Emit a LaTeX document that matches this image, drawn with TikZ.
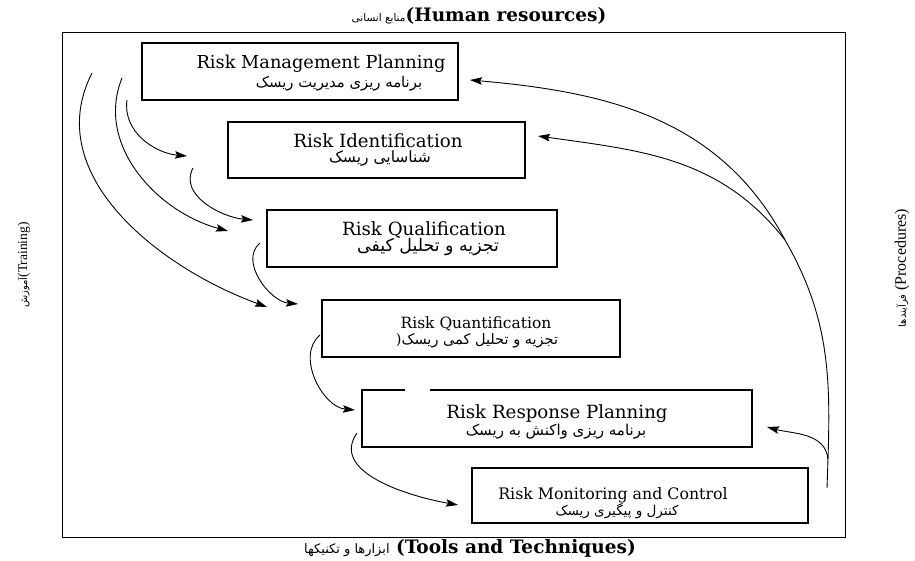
\documentclass[tikz,border=0pt]{standalone}
\usepackage{fontspec}
\usetikzlibrary{arrows.meta}
\setmainfont{DejaVu Serif}
\newfontfamily\sidefont{Liberation Serif}
\newfontfamily\fafont[Script=Arabic]{DejaVu Sans}
\TeXXeTstate=1
\newcommand\fasize[1]{\fafont\mdseries\fontsize{#1}{#1}\selectfont}

\tikzset{
  stage/.style={draw, line width=1.1pt, inner sep=0pt},
  title/.style={anchor=base, inner sep=0pt, font=\fontsize{#1}{#1}\selectfont},
  sub/.style={anchor=base, inner sep=0pt, font=\fafont\fontsize{#1}{#1}\selectfont},
  edge/.style={anchor=base, inner sep=0pt, font=\bfseries\fontsize{18.5}{20}\selectfont},
  side/.style={inner sep=0pt, rotate=90, font=\sidefont\fontsize{#1}{#1}\selectfont},
  flow/.style={line width=0.9pt, -{Stealth[length=12pt,width=7.5pt,inset=2pt]}},
  link/.style={line width=0.9pt},
}

\begin{document}
\begin{tikzpicture}[x=1pt,y=1pt]
  \useasboundingbox (0,0) rectangle (915,560);

  % outer frame
  \draw[line width=0.9pt] (62,23) rectangle (845,528);

  % margin captions
  \node[edge] (top) at (479,538) {{\fasize{10.5}\beginR منابع انسانی\endR}(Human resources)};
  \node[edge] (bottom) at (470,7) {{\fasize{13}\beginR ابزارها و تکنیکها\endR} (Tools and Techniques)};
  \node[side=13.5] (left) at (24,295) {{\fasize{10}\beginR آموزش\endR}(Training)};
  \node[side=16] (right) at (902,292) {{\fasize{10}\beginR فرآیندها\endR} (Procedures)};

  % process stages
  \node[stage, minimum width=316pt, minimum height=57pt] (b1) at (300,488.5) {};
  \node[stage, minimum width=297pt, minimum height=56pt] (b2) at (376.5,410) {};
  \node[stage, minimum width=290pt, minimum height=57pt] (b3) at (412,321.5) {};
  \node[stage, minimum width=298pt, minimum height=57pt] (b4) at (471,231.5) {};
  \node[stage, minimum width=390pt, minimum height=57pt] (b5) at (557,141.5) {};
  \node[stage, minimum width=336pt, minimum height=55pt] (b6) at (640,64.5) {};
  % break in the top edge of the response box
  \draw[white, line width=2.5pt] (405,170) -- (430,170);

  \node[title=17.8] (t1) at (321,491) {Risk Management Planning};
  \node[sub=14.8]   (p1) at (339,472) {\beginR برنامه ریزی مدیریت ریسک\endR};
  \node[title=18.2] (t2) at (378,412) {Risk Identification};
  \node[sub=15.5]   (p2) at (380,397) {\beginR شناسایی ریسک\endR};
  \node[title=18.2] (t3) at (424,324) {Risk Qualification};
  \node[sub=17.4]   (p3) at (428,308) {\beginR تجزیه و تحلیل کیفی\endR};
  \node[title=15.5] (t4) at (476,231) {Risk Quantification};
  \node[sub=14.5]   (p4) at (477,215) {{\rmfamily )}\beginR تجزیه و تحلیل کمی ریسک\endR};
  \node[title=18.2] (t5) at (557,142) {Risk Response Planning};
  \node[sub=15]     (p5) at (556,125) {\beginR برنامه ریزی واکنش به ریسک\endR};
  \node[title=15.8] (t6) at (613,61) {Risk Monitoring and Control};
  \node[sub=13.5]   (p6) at (617,45) {\beginR کنترل و پیگیری ریسک\endR};

  % ends of the left-hand feed arrows
  \coordinate (a1s) at (127,460); \coordinate (a1e) at (187,404);
  \coordinate (a2s) at (122,482); \coordinate (a2e) at (228,329);
  \coordinate (a3s) at (92,487);  \coordinate (a3e) at (267,253);
  \coordinate (a4s) at (193,392); \coordinate (a4e) at (253,340);
  \coordinate (a5s) at (260,317); \coordinate (a5e) at (298,256);
  \coordinate (a6s) at (320,225); \coordinate (a6e) at (355,150);
  \coordinate (a7s) at (357,127); \coordinate (a7e) at (458,55);

  \draw[flow] (a1s) to[out=-98,in=175] (a1e);
  \draw[flow] (a2s) to[out=-112,in=165] (a2e);
  \draw[flow] (a3s) to[out=-117,in=160] (a3e);
  \draw[flow] (a4s) to[out=-118,in=175] (a4e);
  \draw[flow] (a5s) to[out=-140,in=175] (a5e);
  \draw[flow] (a6s) to[out=-140,in=175] (a6e);
  \draw[flow] (a7s) to[out=-125,in=170] (a7e);

  % feedback from monitoring back up the chain
  \coordinate (fs) at (827,72);
  \coordinate (fork) at (785,320);
  \coordinate (r1e) at (470,480);
  \coordinate (r2e) at (538,424);
  \coordinate (r3e) at (767,133);
  \draw[link] (fs) to[out=88,in=-60] coordinate[pos=0.1] (sb) (fork);
  \draw[flow] (fork) to[out=118,in=-5] (r1e);
  \draw[flow] (fork) to[out=128,in=-8] (r2e);
  \draw[flow] (sb) to[out=95,in=-15] (r3e);
\end{tikzpicture}
\end{document}
